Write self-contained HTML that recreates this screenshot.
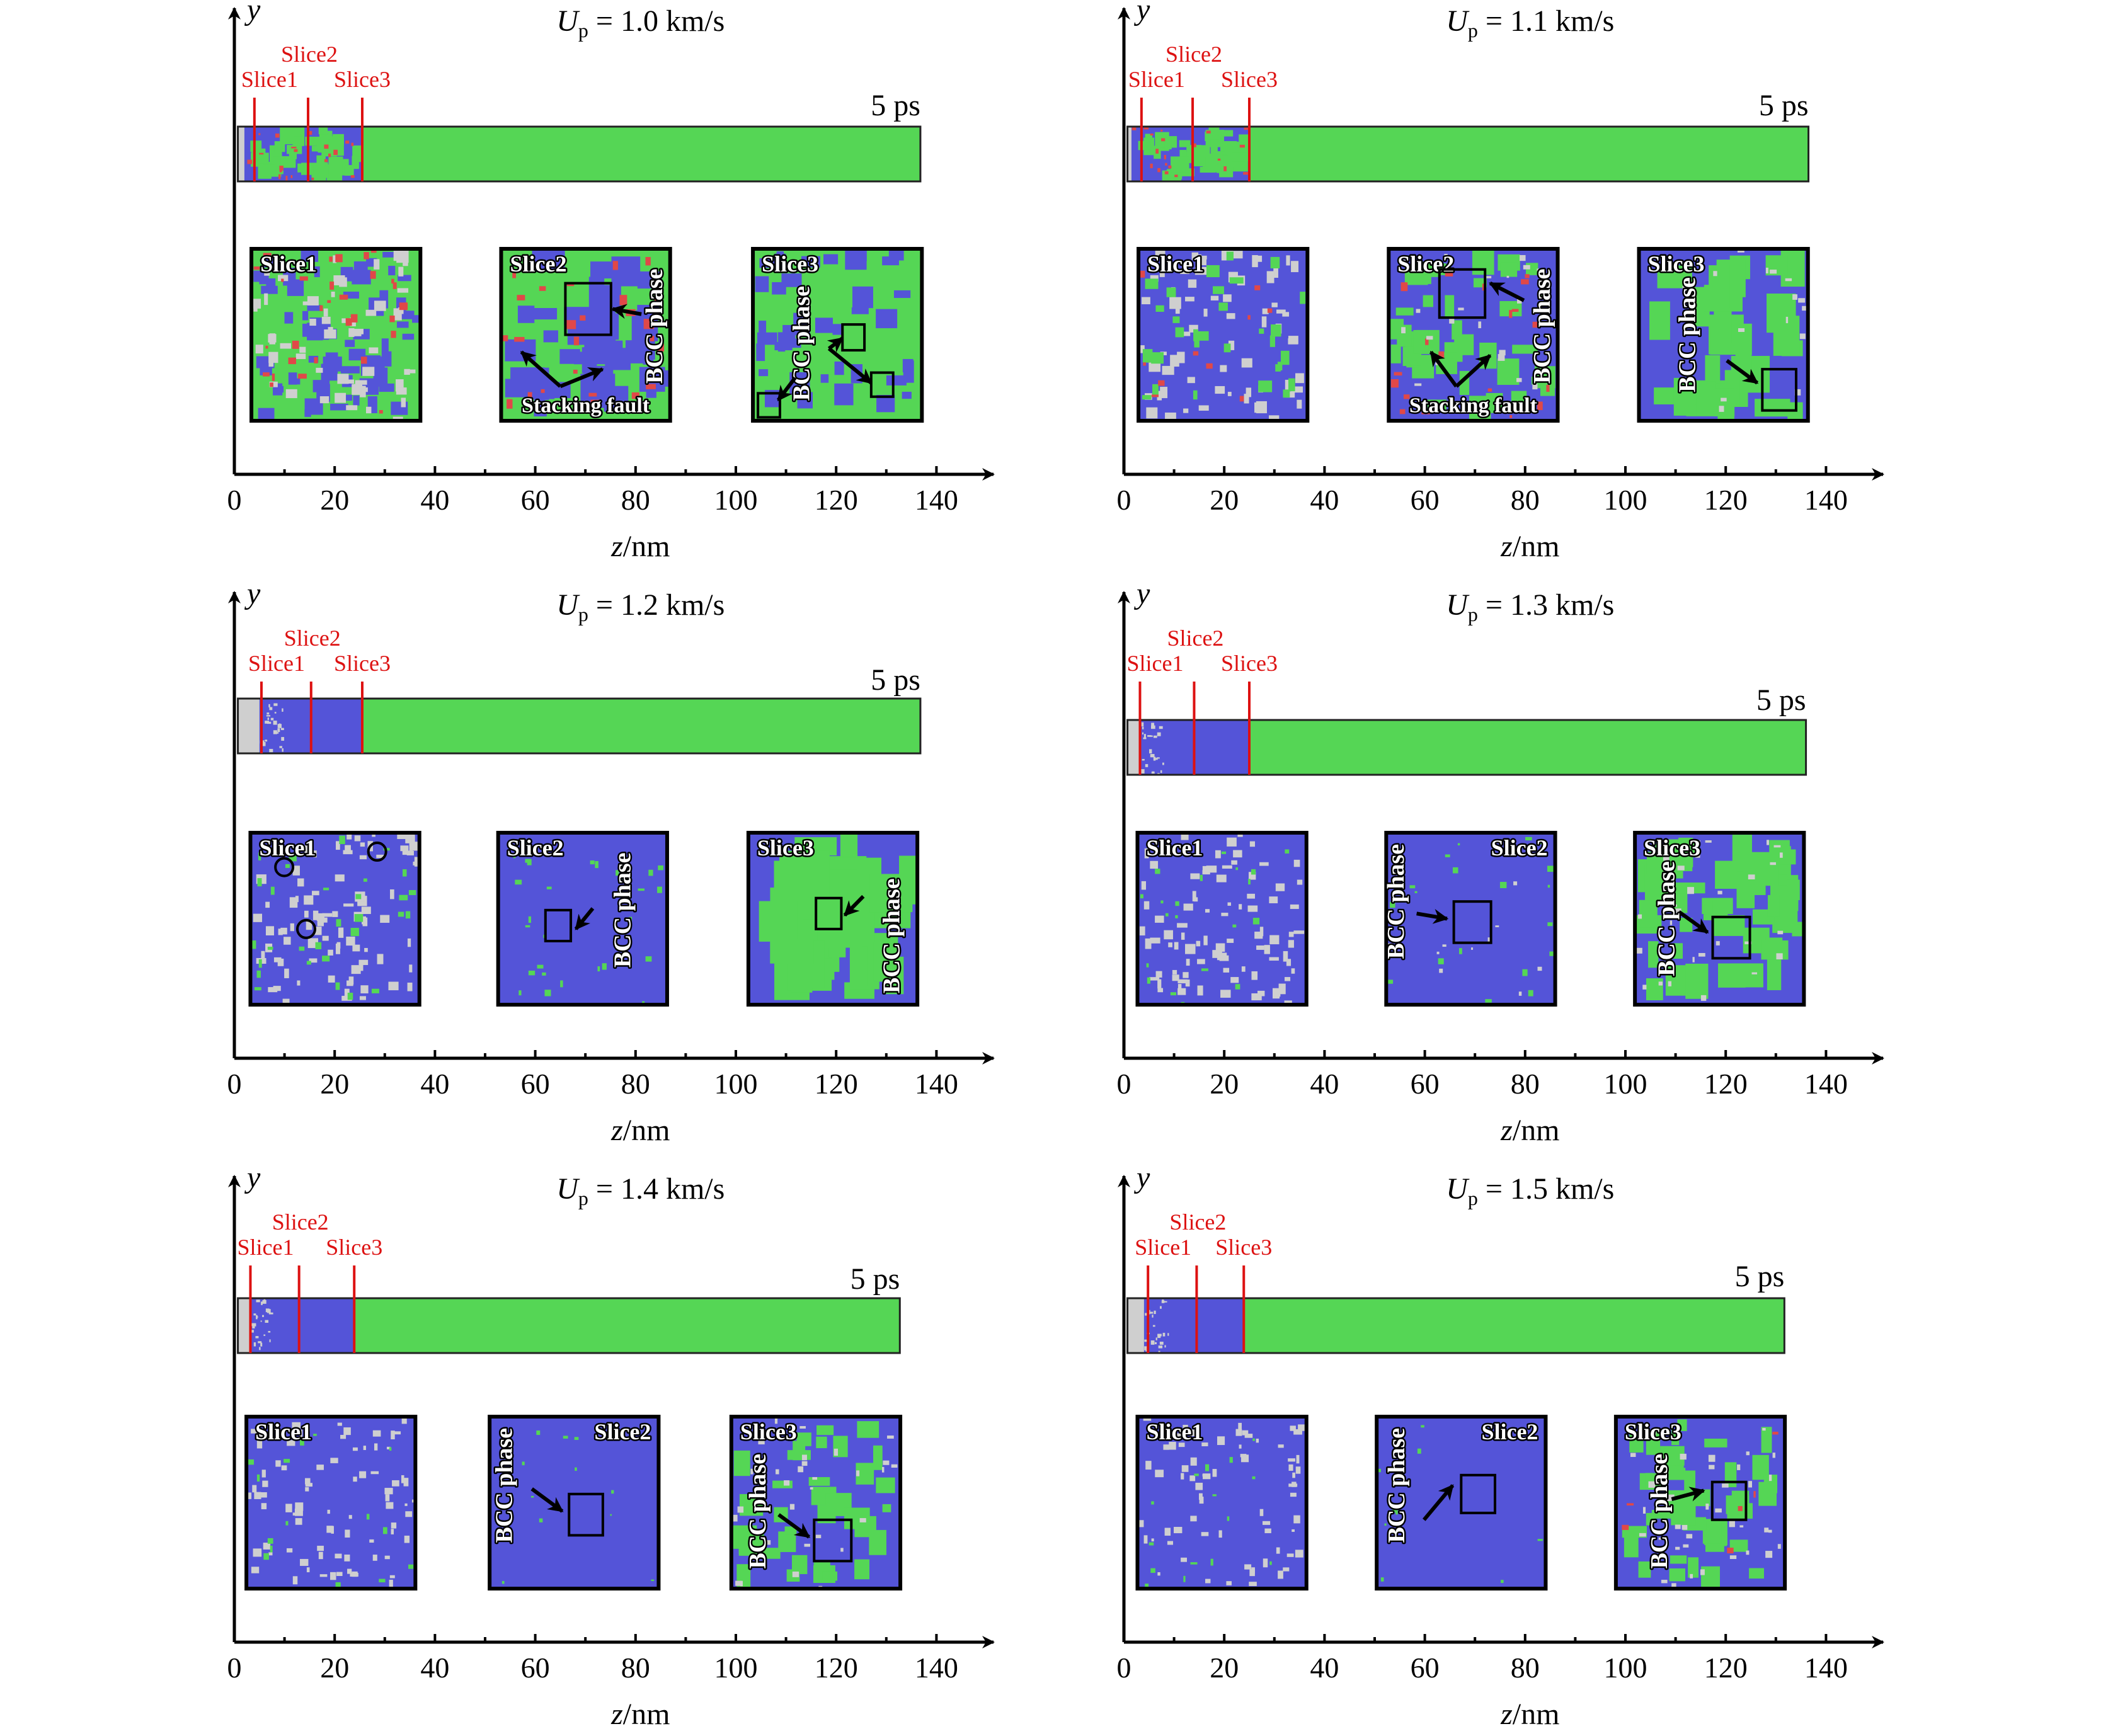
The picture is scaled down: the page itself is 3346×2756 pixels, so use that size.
<!DOCTYPE html>
<html><head><meta charset="utf-8"><title>Shock slices</title>
<style>
html,body{margin:0;padding:0;background:#fff;}
svg{display:block;font-family:"Liberation Serif","DejaVu Serif",serif;}
.ol{fill:#fff;stroke:#000;stroke-width:5;paint-order:stroke;stroke-linejoin:round;font-weight:bold;}
</style></head>
<body>
<svg id="fig" xmlns="http://www.w3.org/2000/svg" width="3346" height="2756" viewBox="0 0 3346 2756">
<defs>
<marker id="ah" viewBox="0 0 10 10" refX="9" refY="5" markerWidth="4" markerHeight="4" orient="auto"><path d="M0,0 L10,5 L0,10 L3,5 z" fill="#000"/></marker>
</defs>
</svg>
<script>
// ---- data ----
const velocities = ["1.0","1.1","1.2","1.3","1.4","1.5"];
const barEndNm = [136.8,136.5,136.8,136.0,132.7,131.7];
const grayEndNm = [2.0,1.5,5.0,3.0,3.0,4.0];
const transformEndNm = [25.5,25.2,25.5,25.0,24.0,23.9];
const slice1Nm = [4.0,3.5,5.4,3.2,3.2,4.8];
const slice2Nm = [14.7,13.7,15.3,14.0,12.9,14.5];
const slice3Nm = [25.5,25.0,25.5,25.0,23.9,23.9];
const square1Nm = [3.4,2.9,3.2,2.7,2.4,2.7];
const square2Nm = [53.2,52.8,52.6,52.3,50.9,50.4];
const square3Nm = [103.4,102.7,102.5,101.9,99.1,98.1];
const squareWidthNm = 33.7;
const tickValues = [0,20,40,60,80,100,120,140];
const minorTicks = [10,30,50,70,90,110,130];

const svg = document.getElementById('fig');
const NS = 'http://www.w3.org/2000/svg';
const colX0 = [372,1784], rowY0 = [753,1680,2607];
const barShift = [0,0,-19,15,6,6];
const psShift = [0,0,-15,17,9,5];
const SC = 7.96;
const G='#55d655', B='#5454d8', GR='#cfcfcf', R='#e04848';

function el(tag, attrs, parent){const e=document.createElementNS(NS,tag);for(const k in attrs)e.setAttribute(k,attrs[k]);(parent||svg).appendChild(e);return e;}
let seed=12345;function rnd(){seed=(seed*1103515245+12345)%2147483648;return seed/2147483648;}
function speckle(g,x,y,w,h,col,n,s){for(let i=0;i<n;i++){const sw=s*(0.4+rnd()),sh=s*(0.4+rnd());el('rect',{x:x+rnd()*(w-sw),y:y+rnd()*(h-sh),width:sw,height:sh,fill:col},g);}}

const sqStyle = [
 [[G,[[B,70,22],[GR,60,14],[R,30,10]]],[G,[[B,40,40],[R,25,12]]],[G,[[B,40,26]]]],
 [[B,[[GR,70,14],[G,30,16],[R,10,8]]],[B,[[G,40,30],[R,20,10],[GR,20,8]]],[B,[[G,30,50],[GR,15,8]]]],
 [[B,[[GR,90,12],[G,30,10]]],[B,[[G,30,8]]],[B,[[G,40,60]]]],
 [[B,[[GR,90,12],[G,20,8]]],[B,[[G,20,8],[GR,10,6]]],[B,[[G,45,40],[GR,30,8]]]],
 [[B,[[GR,80,10],[G,15,8]]],[B,[[G,12,6]]],[B,[[G,35,30],[GR,30,8]]]],
 [[B,[[GR,70,10],[G,15,8]]],[B,[[G,10,6]]],[B,[[G,40,30],[GR,40,8],[R,6,8]]]]
];
const ann = [
 [[1,'box',[0.38,0.2,0.27,0.3]],[1,'arr',[0.83,0.38,0.66,0.35]],[1,'bcc',[0.92,0.45]],[1,'sf',[]],[1,'arr',[0.35,0.8,0.12,0.6]],[1,'arr',[0.35,0.8,0.6,0.7]],
  [2,'box',[0.53,0.44,0.13,0.15]],[2,'box',[0.7,0.72,0.13,0.14]],[2,'box',[0.03,0.84,0.13,0.14]],[2,'bcc',[0.3,0.55]],[2,'arr',[0.45,0.58,0.53,0.52]],[2,'arr',[0.45,0.58,0.7,0.78]],[2,'arr',[0.25,0.75,0.15,0.88]]],
 [[1,'box',[0.3,0.12,0.27,0.28]],[1,'arr',[0.8,0.3,0.6,0.2]],[1,'bcc',[0.92,0.45]],[1,'sf',[]],[1,'arr',[0.4,0.8,0.25,0.6]],[1,'arr',[0.4,0.8,0.6,0.62]],
  [2,'box',[0.73,0.7,0.2,0.24]],[2,'arr',[0.52,0.65,0.7,0.78]],[2,'bcc',[0.3,0.5]]],
 [[0,'circ',[0.2,0.2]],[0,'circ',[0.75,0.11]],[0,'circ',[0.33,0.56]],
  [1,'box',[0.28,0.45,0.15,0.18]],[1,'arr',[0.56,0.44,0.46,0.56]],[1,'bcc',[0.75,0.45]],
  [2,'box',[0.4,0.38,0.15,0.18]],[2,'arr',[0.68,0.37,0.57,0.48]],[2,'bcc',[0.86,0.6]]],
 [[1,'box',[0.4,0.4,0.22,0.24]],[1,'arr',[0.18,0.47,0.36,0.5]],[1,'bcc',[0.07,0.4]],
  [2,'box',[0.46,0.49,0.22,0.24]],[2,'arr',[0.26,0.46,0.43,0.58]],[2,'bcc',[0.2,0.5]]],
 [[1,'box',[0.47,0.45,0.2,0.24]],[1,'arr',[0.25,0.42,0.43,0.55]],[1,'bcc',[0.1,0.4]],
  [2,'box',[0.49,0.6,0.22,0.24]],[2,'arr',[0.28,0.57,0.46,0.7]],[2,'bcc',[0.17,0.55]]],
 [[1,'box',[0.5,0.34,0.2,0.22]],[1,'arr',[0.28,0.6,0.45,0.4]],[1,'bcc',[0.13,0.4]],
  [2,'box',[0.57,0.38,0.2,0.22]],[2,'arr',[0.33,0.48,0.52,0.43]],[2,'bcc',[0.27,0.55]]]
];
const labelRight = [false,false,false,true,true,true];

for(let p=0;p<6;p++){
  const x0=colX0[p%2], y0=rowY0[Math.floor(p/2)];
  const X=nm=>x0+nm*SC;
  const g=el('g',{});
  
  
  const xa=el('line',{x1:x0,y1:y0,x2:x0+1205,y2:y0,stroke:'#000','stroke-width':5,'marker-end':'url(#ah)'},g);
  
  
  const ya=el('line',{x1:x0,y1:y0,x2:x0,y2:y0-740,stroke:'#000','stroke-width':5,'marker-end':'url(#ah)'},g);
  
  
  tickValues.forEach(v=>{
    el('line',{x1:X(v),y1:y0,x2:X(v),y2:y0-13,stroke:'#000','stroke-width':4},g);
    const t=el('text',{x:X(v),y:y0+56,'font-size':46,'text-anchor':'middle'},g);
    t.textContent=v;
    
    
  });
  minorTicks.forEach(v=>el('line',{x1:X(v),y1:y0,x2:X(v),y2:y0-8,stroke:'#000','stroke-width':4},g));
  const xl=el('text',{x:X(81),y:y0+130,'font-size':48,'text-anchor':'middle'},g);
  xl.innerHTML='<tspan font-style="italic">z</tspan>/nm';
  
  
  const yl=el('text',{x:x0+20,y:y0-722,'font-size':48,'font-style':'italic'},g);
  yl.textContent='y';
  
  
  const tt=el('text',{x:X(81),y:y0-704,'font-size':48,'text-anchor':'middle'},g);
  tt.innerHTML='<tspan font-style="italic">U</tspan><tspan font-size="32" dy="10">p</tspan><tspan dy="-10"> = '+velocities[p]+' km/s</tspan>';
  
  
  const by=y0-552+barShift[p], bh=87;
  const bg=el('g',{},g);
  
  
  el('rect',{x:X(0.7),y:by,width:(barEndNm[p]-0.7)*SC,height:bh,fill:G},bg);
  el('rect',{x:X(0.7),y:by,width:(transformEndNm[p]-0.7)*SC,height:bh,fill:B},bg);
  if(p<2){speckle(bg,X(grayEndNm[p]+1),by,(transformEndNm[p]-grayEndNm[p]-1)*SC,bh,G,40,22);speckle(bg,X(grayEndNm[p]),by,(transformEndNm[p]-grayEndNm[p])*SC,bh,R,20,6);}
  else{speckle(bg,X(grayEndNm[p]),by,40,bh,GR,25,5);}
  el('rect',{x:X(0.7),y:by,width:(grayEndNm[p]-0.7)*SC,height:bh,fill:GR},bg);
  el('rect',{x:X(0.7),y:by,width:(barEndNm[p]-0.7)*SC,height:bh,fill:'none',stroke:'#222','stroke-width':3},bg);
  const ps=el('text',{x:X(barEndNm[p]),y:y0-570+psShift[p],'font-size':48,'text-anchor':'end'},g);
  ps.textContent='5 ps';
  
  
  [slice1Nm[p],slice2Nm[p],slice3Nm[p]].forEach((s,i)=>{
    const ln=el('line',{x1:X(s),y1:y0-598,x2:X(s),y2:by+bh,stroke:'#dd1111','stroke-width':4},g);
    
    
    const lt=el('text',{x:X(s)+(i==0?24:i==2?0:2),y:i==1?y0-655:y0-615,'font-size':36,fill:'#dd1111','text-anchor':'middle'},g);
    lt.textContent='Slice'+(i+1);
    
    
  });
  const sqX=[square1Nm[p],square2Nm[p],square3Nm[p]];
  const sqW=squareWidthNm*SC, sqY=y0-358, sqH=273;
  const sqG=[];
  sqX.forEach((sx,i)=>{
    const sg=el('g',{},g);
    
    
    const st=sqStyle[p][i];
    el('rect',{x:X(sx),y:sqY,width:sqW,height:sqH,fill:st[0]},sg);
    st[1].forEach(s=>speckle(sg,X(sx),sqY,sqW,sqH,s[0],s[1],s[2]));
    el('rect',{x:X(sx),y:sqY,width:sqW,height:sqH,fill:'none',stroke:'#000','stroke-width':6},sg);
    const right=labelRight[p]&&i==1;
    const lab=el('text',{x:right?X(sx)+sqW-12:X(sx)+14,y:sqY+36,'font-size':36,'text-anchor':right?'end':'start',class:'ol'},sg);
    lab.textContent='Slice'+(i+1);
    
    
    sqG.push([sg,X(sx)]);
  });
  ann[p].forEach(a=>{
    const [sg,sx]=sqG[a[0]]; const q=a[2];
    const fx=v=>sx+v*sqW, fy=v=>sqY+v*sqH;
    if(a[1]=='box'){const b=el('rect',{x:fx(q[0]),y:fy(q[1]),width:q[2]*sqW,height:q[3]*sqH,fill:'none',stroke:'#000','stroke-width':4},sg);
      
      }
    else if(a[1]=='arr'){const ar=el('line',{x1:fx(q[0]),y1:fy(q[1]),x2:fx(q[2]),y2:fy(q[3]),stroke:'#000','stroke-width':6,'marker-end':'url(#ah)'},sg);
      
      }
    else if(a[1]=='circ'){const c=el('circle',{cx:fx(q[0]),cy:fy(q[1]),r:14,fill:'none',stroke:'#000','stroke-width':4},sg);
      
      }
    else if(a[1]=='bcc'){const t=el('text',{x:0,y:0,'font-size':38,'text-anchor':'middle',class:'ol',transform:'translate('+fx(q[0])+','+fy(q[1])+') rotate(-90)','dominant-baseline':'middle'},sg);
      t.textContent='BCC phase';
      
      }
    else if(a[1]=='sf'){const t=el('text',{x:fx(0.5),y:fy(0.95),'font-size':34,'text-anchor':'middle',class:'ol'},sg);
      t.textContent='Stacking fault';
      
      }
  });
}
</script>
</body></html>
